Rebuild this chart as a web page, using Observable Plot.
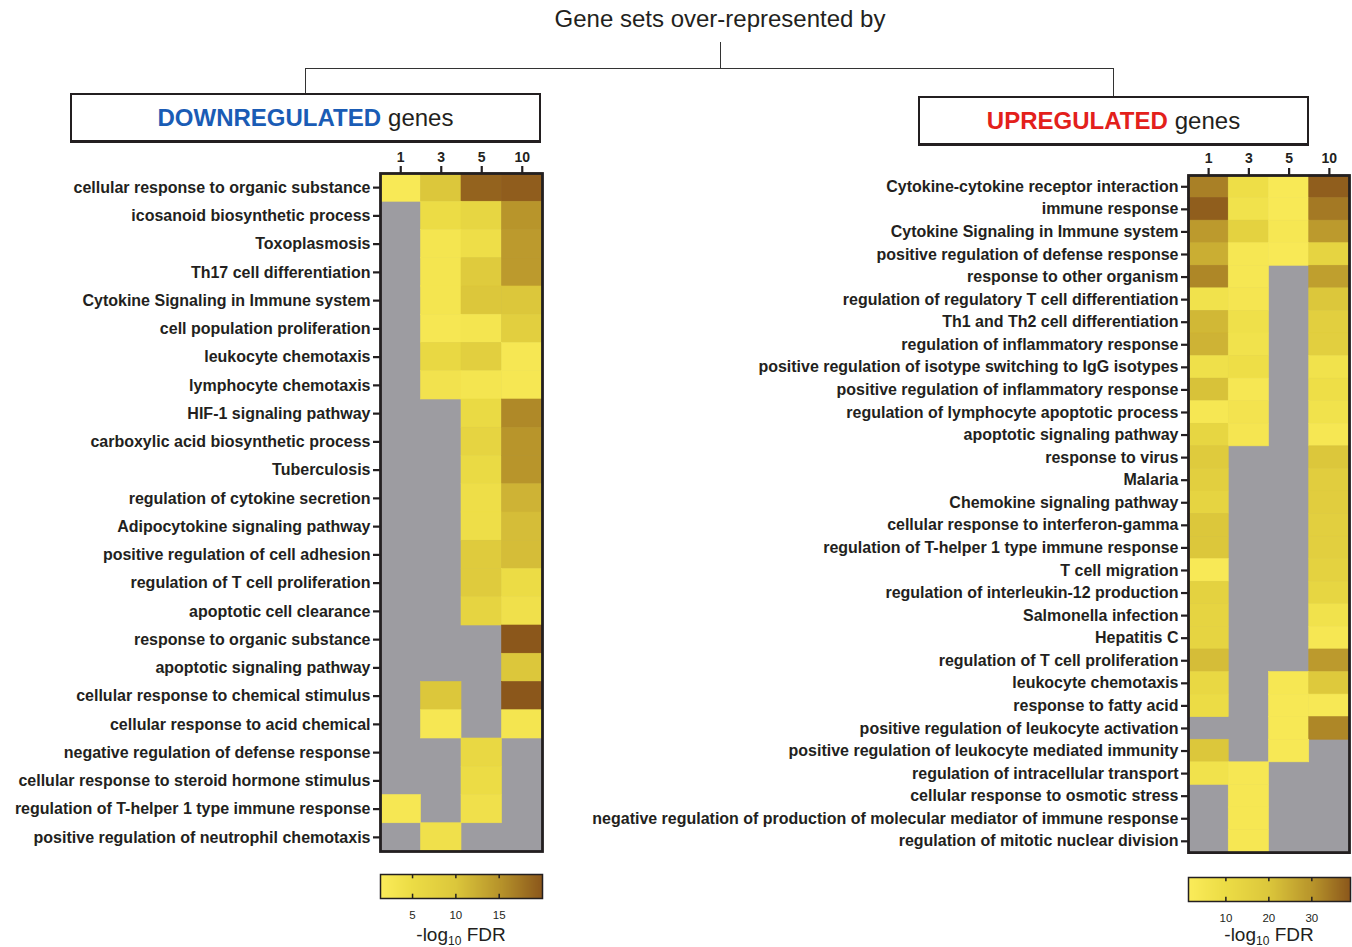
<!DOCTYPE html>
<html>
<head>
<meta charset="utf-8">
<script src="https://cdn.jsdelivr.net/npm/d3@7"></script>
<script src="https://cdn.jsdelivr.net/npm/@observablehq/plot@0.6"></script>
<style>
  html, body { margin: 0; padding: 0; background: #fff; }
  #page { position: relative; width: 1352px; height: 947px; font-family: "Liberation Sans", Arial, sans-serif; color: #231f20; overflow: hidden; }
  .abs { position: absolute; }
  .title { left: 0; width: 1440px; top: 5px; text-align: center; font-size: 24px; }
  .hline { background: #333; height: 1px; }
  .vline { background: #333; width: 1px; }
  .box { border: 2px solid #231f20; border-bottom-width: 3px; box-sizing: border-box; display: flex; align-items: center; justify-content: center; font-size: 24px; background: #fff; }
  .box b { font-weight: bold; margin-right: 7px; }
  .legend-label { font-size: 19px; text-align: center; width: 200px; line-height: 20px; }
  .legend-label sub { font-size: 12px; vertical-align: -4px; line-height: 0; }
  #page svg { max-width: none !important; }
</style>
</head>
<body>
<div id="page">
  <div class="abs title">Gene sets over-represented by</div>
  <div class="abs vline" style="left:720px; top:42px; height:26px;"></div>
  <div class="abs hline" style="left:305px; top:68px; width:809px;"></div>
  <div class="abs vline" style="left:305px; top:68px; height:26px;"></div>
  <div class="abs vline" style="left:1113px; top:68px; height:29px;"></div>
  <div class="abs box" style="left:70px; top:93px; width:471px; height:50px;"><b style="color:#1a5cb5">DOWNREGULATED</b>genes</div>
  <div class="abs box" style="left:918px; top:96px; width:391px; height:50px;"><b style="color:#e3201b">UPREGULATED</b>genes</div>
  <div id="heat-down" class="abs" style="left:0; top:140px;"></div>
  <div id="heat-up" class="abs" style="left:560px; top:140px;"></div>
  <div id="leg-down" class="abs" style="left:0; top:872px;"></div>
  <div id="leg-up" class="abs" style="left:1000px; top:875px;"></div>
  <div class="abs legend-label" style="left:361px; top:925px;">-log<sub>10</sub> FDR</div>
  <div class="abs legend-label" style="left:1169px; top:925px;">-log<sub>10</sub> FDR</div>
</div>
<script>
// Time points (columns of both heatmaps)
const timepoints = ["1", "3", "5", "10"];

// Gene sets over-represented by downregulated genes
const downSets = [
  "cellular response to organic substance",
  "icosanoid biosynthetic process",
  "Toxoplasmosis",
  "Th17 cell differentiation",
  "Cytokine Signaling in Immune system",
  "cell population proliferation",
  "leukocyte chemotaxis",
  "lymphocyte chemotaxis",
  "HIF-1 signaling pathway",
  "carboxylic acid biosynthetic process",
  "Tuberculosis",
  "regulation of cytokine secretion",
  "Adipocytokine signaling pathway",
  "positive regulation of cell adhesion",
  "regulation of T cell proliferation",
  "apoptotic cell clearance",
  "response to organic substance",
  "apoptotic signaling pathway",
  "cellular response to chemical stimulus",
  "cellular response to acid chemical",
  "negative regulation of defense response",
  "cellular response to steroid hormone stimulus",
  "regulation of T-helper 1 type immune response",
  "positive regulation of neutrophil chemotaxis"
];
// -log10 FDR per set, one value per time point (null = not enriched)
const downFdr = [
  [2, 10, 19, 19.5],
  [null, 5, 6.5, 15],
  [null, 3, 4.5, 14.5],
  [null, 3, 9, 14.5],
  [null, 3, 10, 10],
  [null, 2.5, 3, 8],
  [null, 6, 8, 2.5],
  [null, 3.5, 3, 2.5],
  [null, null, 5.5, 16],
  [null, null, 7, 15],
  [null, null, 5.5, 15],
  [null, null, 4.5, 12],
  [null, null, 4.5, 11],
  [null, null, 9, 11],
  [null, null, 9, 5],
  [null, null, 7, 4],
  [null, null, null, 20],
  [null, null, null, 10],
  [null, 10, null, 20],
  [null, 2.5, null, 3],
  [null, null, 6, null],
  [null, null, 5, null],
  [2.5, null, 4, null],
  [null, 4, null, null]
];

// Gene sets over-represented by upregulated genes
const upSets = [
  "Cytokine-cytokine receptor interaction",
  "immune response",
  "Cytokine Signaling in Immune system",
  "positive regulation of defense response",
  "response to other organism",
  "regulation of regulatory T cell differentiation",
  "Th1 and Th2 cell differentiation",
  "regulation of inflammatory response",
  "positive regulation of isotype switching to IgG isotypes",
  "positive regulation of inflammatory response",
  "regulation of lymphocyte apoptotic process",
  "apoptotic signaling pathway",
  "response to virus",
  "Malaria",
  "Chemokine signaling pathway",
  "cellular response to interferon-gamma",
  "regulation of T-helper 1 type immune response",
  "T cell migration",
  "regulation of interleukin-12 production",
  "Salmonella infection",
  "Hepatitis C",
  "regulation of T cell proliferation",
  "leukocyte chemotaxis",
  "response to fatty acid",
  "positive regulation of leukocyte activation",
  "positive regulation of leukocyte mediated immunity",
  "regulation of intracellular transport",
  "cellular response to osmotic stress",
  "negative regulation of production of molecular mediator of immune response",
  "regulation of mitotic nuclear division"
];
const upFdr = [
  [33, 9, 3, 38],
  [38, 7, 3, 34],
  [29, 15, 4, 29],
  [25, 4, 3, 14],
  [32, 4, null, 28],
  [7, 5, null, 20],
  [23, 8, null, 16],
  [24, 7, null, 16],
  [8, 9, null, 7],
  [21, 4, null, 9],
  [4, 6, null, 7],
  [13, 5, null, 4],
  [18, null, null, 20],
  [16, null, null, 17],
  [14, null, null, 17],
  [20, null, null, 16],
  [20, null, null, 16],
  [3, null, null, 15],
  [15, null, null, 13],
  [14, null, null, 7],
  [14, null, null, 4],
  [22, null, null, 29],
  [12, null, 4, 19],
  [10, null, 3.5, 3.5],
  [null, null, 3.5, 32],
  [20, null, 3.5, null],
  [7, 4, null, null],
  [null, 4, null, null],
  [null, 4, null, null],
  [null, 4, null, null]
];

// Legend ticks
const downLegendTicks = [5, 10, 15];
const upLegendTicks = [10, 20, 30];

// Colour ramp shared by both panels (light yellow -> gold -> brown)
const ramp = ["#fbec5a", "#ecdc45", "#dcc73b", "#b8952b", "#8b571b"];
const missing = "#9d9ca1";
const ink = "#231f20";

function tidy(sets, fdr) {
  return sets.flatMap((s, i) => timepoints.map((t, j) => ({set: s, day: t, value: fdr[i][j]})));
}

function heatmap({sets, fdr, domain, width, marginLeft, marginTop, cellW, rowH}) {
  const cells = tidy(sets, fdr).filter(d => d.value != null);
  const frameW = cellW * timepoints.length;
  const frameH = rowH * sets.length;
  return Plot.plot({
    width,
    height: marginTop + frameH + 6,
    marginLeft,
    marginTop,
    marginRight: width - marginLeft - frameW,
    marginBottom: 6,
    style: {fontFamily: '"Liberation Sans", Arial, sans-serif', fontWeight: "bold", color: ink, background: "transparent"},
    x: {domain: timepoints, padding: 0, round: false, axis: null},
    y: {domain: sets, padding: 0, round: false, axis: null},
    color: {type: "linear", domain, range: ramp, clamp: true},
    marks: [
      // grey background = gene set not over-represented at that time point
      Plot.frame({fill: missing}),
      Plot.cell(cells, {x: "day", y: "set", fill: "value", stroke: "value", strokeWidth: 0.6}),
      Plot.frame({stroke: ink, strokeWidth: 2.8}),
      Plot.axisX({anchor: "top", tickSize: 8, tickPadding: 4, strokeWidth: 2.2, fontSize: 14, label: null}),
      Plot.axisY({anchor: "left", tickSize: 7, tickPadding: 3, strokeWidth: 2.2, fontSize: 16, label: null})
    ]
  });
}

function legend({domain, ticks, left, barW}) {
  const [lo, hi] = [domain[0], domain[domain.length - 1]];
  const n = 160;
  const step = (hi - lo) / n;
  const stops = d3.range(n).map(i => lo + i * step);
  const barH = 24;
  return Plot.plot({
    width: left + barW + 4,
    height: 2 + barH + 34,
    marginLeft: left,
    marginRight: 4,
    marginTop: 2,
    marginBottom: 34,
    style: {fontFamily: '"Liberation Sans", Arial, sans-serif', color: ink, background: "transparent"},
    x: {domain: [lo, hi], axis: null},
    y: {domain: [0, 1], axis: null},
    color: {type: "linear", domain, range: ramp, clamp: true},
    marks: [
      Plot.rect(stops, {x1: d => d, x2: d => d + step * 1.6, y1: 0, y2: 1, fill: d => d + step / 2, shapeRendering: "crispEdges"}),
      Plot.ruleX(ticks, {y1: 0.82, y2: 1, stroke: ink, strokeWidth: 1.5}),
      Plot.ruleX(ticks, {y1: 0, y2: 0.18, stroke: ink, strokeWidth: 1.5}),
      Plot.frame({stroke: ink, strokeWidth: 1.5}),
      Plot.axisX(ticks, {anchor: "bottom", tickSize: 0, tickPadding: 12, fontSize: 11.5, fill: ink, label: null})
    ]
  });
}

document.getElementById("heat-down").append(heatmap({
  sets: downSets, fdr: downFdr, domain: [1.3, 5, 10, 15, 20],
  width: 560, marginLeft: 380, marginTop: 33, cellW: 40.5, rowH: 28.25
}));
document.getElementById("heat-up").append(heatmap({
  sets: upSets, fdr: upFdr, domain: [1.3, 10, 20, 30, 39],
  width: 792, marginLeft: 628, marginTop: 35, cellW: 40.25, rowH: 22.57
}));
document.getElementById("leg-down").append(legend({
  domain: [1.3, 5, 10, 15, 20], ticks: downLegendTicks, left: 380, barW: 162
}));
document.getElementById("leg-up").append(legend({
  domain: [1.3, 10, 20, 30, 39], ticks: upLegendTicks, left: 188, barW: 162
}));
</script>
</body>
</html>
